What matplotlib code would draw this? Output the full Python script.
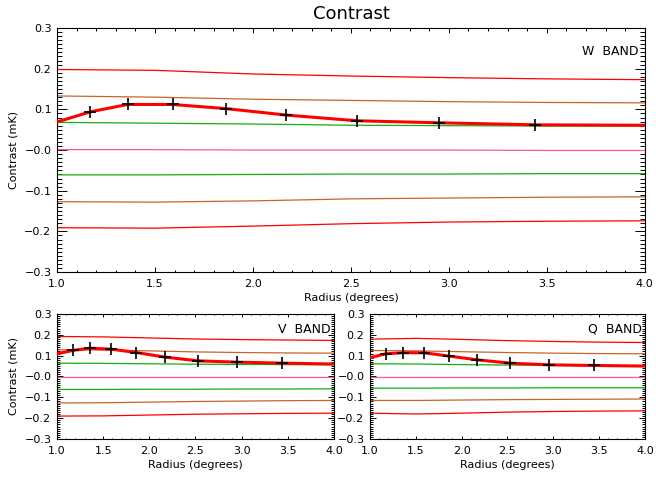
import matplotlib
matplotlib.use('Agg')
import matplotlib.pyplot as plt
from matplotlib.ticker import MultipleLocator

# ------------------------------------------------------------
# data
# ------------------------------------------------------------
grid_r = [1.0, 1.5, 2.0, 2.5, 3.0, 3.5, 4.0]
point_r = [1.17, 1.36, 1.59, 1.86, 2.17, 2.53, 2.95, 3.44]

# W band
w_red_up = [0.198, 0.196, 0.187, 0.182, 0.178, 0.175, 0.173]
w_org_up = [0.133, 0.130, 0.125, 0.122, 0.119, 0.117, 0.116]
w_grn_up = [0.068, 0.066, 0.064, 0.061, 0.060, 0.059, 0.059]
w_pink = [0.001, 0.001, 0.000, 0.000, 0.000, -0.001, -0.001]
w_grn_lo = [-0.061, -0.061, -0.060, -0.059, -0.059, -0.058, -0.058]
w_org_lo = [-0.127, -0.128, -0.125, -0.120, -0.118, -0.116, -0.115]
w_red_lo = [-0.191, -0.192, -0.187, -0.181, -0.177, -0.175, -0.174]
w_points = [0.094, 0.112, 0.112, 0.102, 0.086, 0.072, 0.067, 0.062]
w_ends = [0.069, 0.061]

# V band
v_red_up = [0.192, 0.190, 0.185, 0.180, 0.177, 0.175, 0.173]
v_org_up = [0.128, 0.127, 0.123, 0.118, 0.115, 0.113, 0.112]
v_grn_up = [0.064, 0.063, 0.061, 0.059, 0.058, 0.057, 0.056]
v_pink = [-0.002, -0.002, -0.002, -0.002, -0.002, -0.002, -0.002]
v_grn_lo = [-0.062, -0.062, -0.061, -0.061, -0.060, -0.060, -0.059]
v_org_lo = [-0.127, -0.126, -0.123, -0.120, -0.118, -0.116, -0.115]
v_red_lo = [-0.190, -0.189, -0.185, -0.181, -0.179, -0.177, -0.176]
v_points = [0.125, 0.136, 0.131, 0.115, 0.093, 0.075, 0.069, 0.064]
v_ends = [0.109, 0.060]

# Q band
q_red_up = [0.179, 0.183, 0.178, 0.172, 0.168, 0.165, 0.163]
q_org_up = [0.125, 0.123, 0.119, 0.115, 0.112, 0.110, 0.109]
q_grn_up = [0.061, 0.060, 0.057, 0.055, 0.053, 0.052, 0.051]
q_pink = [-0.002, -0.002, -0.002, -0.002, -0.002, -0.002, -0.002]
q_grn_lo = [-0.056, -0.056, -0.055, -0.055, -0.054, -0.054, -0.054]
q_org_lo = [-0.115, -0.115, -0.113, -0.111, -0.110, -0.109, -0.108]
q_red_lo = [-0.176, -0.180, -0.176, -0.171, -0.168, -0.166, -0.165]
q_points = [0.109, 0.114, 0.114, 0.098, 0.080, 0.064, 0.056, 0.053]
q_ends = [0.090, 0.050]

y_ticks = [-0.3, -0.2, -0.1, 0.0, 0.1, 0.2, 0.3]
y_ticklabels = ['\u22120.3', '\u22120.2', '\u22120.1', '\u22120.0', '0.1', '0.2', '0.3']
x_ticks = [1.0, 1.5, 2.0, 2.5, 3.0, 3.5, 4.0]
x_ticklabels = ['1.0', '1.5', '2.0', '2.5', '3.0', '3.5', '4.0']

RED = '#ff0000'
ORANGE = '#c8642a'
GREEN = '#10b010'
PINK = '#ff5a7c'

plt.rcParams['font.family'] = ['DejaVu Sans']


def draw_band(ax, curves, points, ends, label, ylen, xlen, fs_band):
    red_up, org_up, grn_up, pink, grn_lo, org_lo, red_lo = curves
    for vals, col in [(red_up, RED), (org_up, ORANGE), (grn_up, GREEN),
                      (pink, PINK), (grn_lo, GREEN), (org_lo, ORANGE),
                      (red_lo, RED)]:
        ax.plot(grid_r, vals, color=col, lw=0.9, zorder=2)

    xs = [grid_r[0]] + point_r + [grid_r[-1]]
    ys = [ends[0]] + points + [ends[1]]
    ax.plot(xs, ys, color=RED, lw=2.2, zorder=3, solid_joinstyle='round')
    ax.plot(point_r, points, ls='none', marker='+', color='black',
            ms=8, mew=1.2, zorder=4)

    ax.set_xlim(1.0, 4.0)
    ax.set_ylim(-0.3, 0.3)
    ax.set_xticks(x_ticks)
    ax.set_xticklabels(x_ticklabels)
    ax.set_yticks(y_ticks)
    ax.set_yticklabels(y_ticklabels)
    ax.xaxis.set_minor_locator(MultipleLocator(0.1))
    ax.yaxis.set_minor_locator(MultipleLocator(0.01))
    ax.tick_params(axis='both', which='both', direction='in',
                   top=True, right=True, width=0.7, labelsize=8)
    ax.tick_params(axis='y', which='major', length=ylen, pad=4)
    ax.tick_params(axis='y', which='minor', length=ylen / 2)
    ax.tick_params(axis='x', which='major', length=xlen, pad=5)
    ax.tick_params(axis='x', which='minor', length=xlen / 2)
    for sp in ax.spines.values():
        sp.set_linewidth(0.8)

    ax.set_xlabel('Radius (degrees)', fontsize=8, labelpad=3)
    ax.set_ylabel('Contrast (mK)', fontsize=8, labelpad=4)
    ax.text(0.99, 0.93, label, transform=ax.transAxes, ha='right',
            va='top', fontsize=fs_band)


fig = plt.figure(figsize=(6.56, 4.79), dpi=100)

ax_w = fig.add_axes([0.0869, 0.432, 0.896, 0.5095])
ax_v = fig.add_axes([0.0869, 0.0835, 0.422, 0.261])
ax_q = fig.add_axes([0.564, 0.0835, 0.419, 0.261])

draw_band(ax_w, [w_red_up, w_org_up, w_grn_up, w_pink, w_grn_lo, w_org_lo, w_red_lo],
          w_points, w_ends, 'W  BAND', 7.5, 3.6, 9)
draw_band(ax_v, [v_red_up, v_org_up, v_grn_up, v_pink, v_grn_lo, v_org_lo, v_red_lo],
          v_points, v_ends, 'V  BAND', 4.0, 2.0, 9)
draw_band(ax_q, [q_red_up, q_org_up, q_grn_up, q_pink, q_grn_lo, q_org_lo, q_red_lo],
          q_points, q_ends, 'Q  BAND', 4.0, 2.0, 9)
ax_q.set_ylabel('')

fig.text(0.535, 0.971, 'Contrast', ha='center', va='center', fontsize=13)

fig.savefig('out.png', dpi=100)
plt.close(fig)
